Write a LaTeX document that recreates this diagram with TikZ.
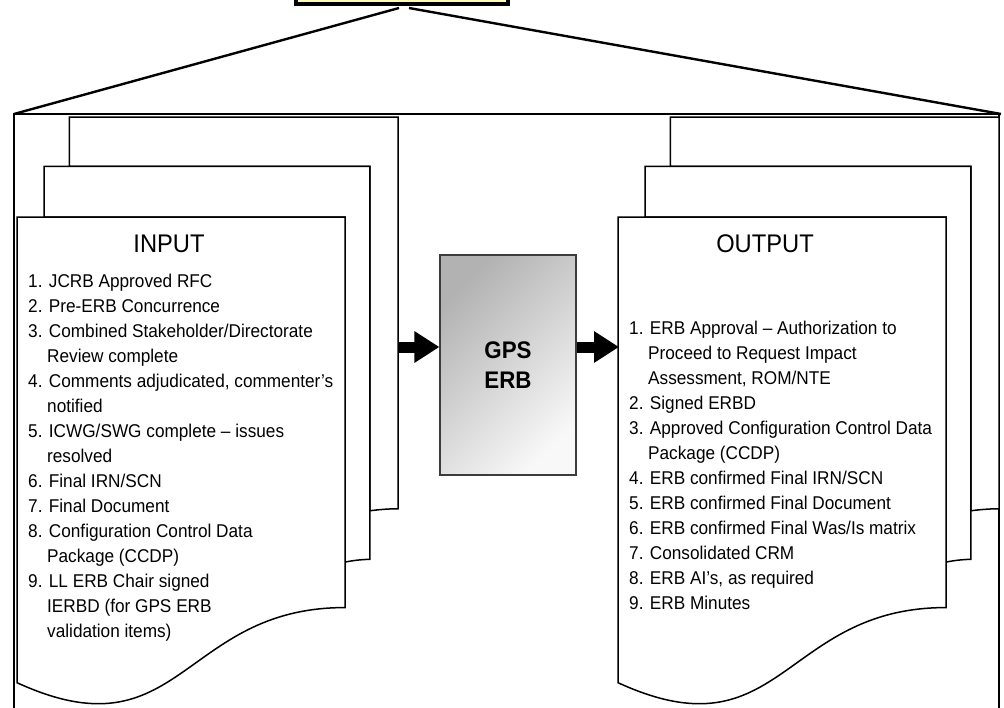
\documentclass[tikz,border=0pt]{standalone}
\usepackage{fontspec}
\setmainfont[FakeStretch=0.93]{Liberation Sans}
\usepackage{tikz}
\usetikzlibrary{arrows.meta}

\definecolor{boardyellow}{HTML}{FFFCB8}
\definecolor{gpsdark}{HTML}{B2B2B2}
\definecolor{gpslight}{HTML}{F8F8F8}
\definecolor{gpsline}{HTML}{3C3C3C}

\newcommand{\itmind}{\hspace*{19pt}}
% three stacked pages, front page at x = #1
\newcommand{\docstack}[1]{%
	\begin{scope}[shift={(#1,117)}, x=1.764pt, y=-2.722pt]
		\draw[page] (29.72,18.15) -- (29.72,0) -- (216,0) -- (216,143.92)
			.. controls (208,143.92) and (200,144.67) .. (200,144.67) -- (200,18.15) -- cycle;
		\draw[page] (15.32,36.75) -- (15.32,18.15) -- (200,18.15) -- (200,162.52)
			.. controls (192.98,162.52) and (185.95,163.52) .. (185.95,163.52) -- (185.95,36.75) -- cycle;
		\draw[page] (0,207.82) .. controls (92.98,235.42) and (92.98,180.22) .. (185.95,180.22)
			-- (185.95,36.75) -- (0,36.75) -- cycle;
	\end{scope}}

\tikzset{
	page/.style={draw=black, fill=white, line width=1.5pt, line join=miter},
	fan/.style={line width=2.4pt},
	item/.style={anchor=base west, inner sep=0pt, font=\fontsize{18.5}{22}\selectfont},
	head/.style={anchor=base, inner sep=0pt, font=\fontsize{25.5}{30}\selectfont},
	bigarrow/.style={line width=11pt, -{Triangle[length=25pt,width=30pt]}}
}

\begin{document}
\begin{tikzpicture}[x=1pt, y=-1pt]
	\useasboundingbox (0,0) rectangle (1004,707);

	\coordinate (fanl) at (14,114);
	\coordinate (fanr) at (1001,114);
	\coordinate (topl) at (399,8);
	\coordinate (topr) at (409,8);
	\draw [fan] (topl) -- (fanl);
	\draw [fan] (topr) -- (fanr);
	\draw [line width=1.5pt] (14,712) -- (fanl) -- (999,114) -- (999,712);

	\node [draw, line width=4pt, fill=boardyellow, minimum width=212pt, minimum height=60pt,
		anchor=south, inner sep=0pt] (board) at (402,6) {};

	\docstack{17}
	\docstack{618}

	\node [head] (inhead) at (169,252) {INPUT};
	\node [head] (outhead) at (765,252) {OUTPUT};

	\foreach \txt [count=\i from 0] in {
		{1. JCRB Approved RFC}, {2. Pre-ERB Concurrence},
		{3. Combined Stakeholder/Directorate}, {\itmind Review complete},
		{4. Comments adjudicated, commenter’s}, {\itmind notified},
		{5. ICWG/SWG complete – issues}, {\itmind resolved},
		{6. Final IRN/SCN}, {7. Final Document},
		{8. Configuration Control Data}, {\itmind Package (CCDP)},
		{9. LL ERB Chair signed}, {\itmind IERBD (for GPS ERB}, {\itmind validation items)}
	} {
		\node [item] (in\i) at (28,287+25*\i) {\txt};
	}

	\foreach \txt [count=\i from 0] in {
		{1. ERB Approval – Authorization to}, {\itmind Proceed to Request Impact},
		{\itmind Assessment, ROM/NTE}, {2. Signed ERBD},
		{3. Approved Configuration Control Data}, {\itmind Package (CCDP)},
		{4. ERB confirmed Final IRN/SCN}, {5. ERB confirmed Final Document},
		{6. ERB confirmed Final Was/Is matrix}, {7. Consolidated CRM},
		{8. ERB AI’s, as required}, {9. ERB Minutes}
	} {
		\node [item] (out\i) at (629,334+25*\i) {\txt};
	}

	\node [draw=gpsline, line width=1.2pt, top color=gpsdark, bottom color=gpslight, shading angle=45,
		minimum width=136pt, minimum height=220pt, align=center,
		font=\fontsize{24}{30}\selectfont\bfseries] (gps) at (508,365) {GPS\\ERB};

	\coordinate (inend) at (398,347);
	\coordinate (outend) at (619,347);
	\draw [bigarrow] (inend) -- (inend -| gps.west);
	\draw [bigarrow] (outend -| gps.east) -- (outend);
\end{tikzpicture}
\end{document}
